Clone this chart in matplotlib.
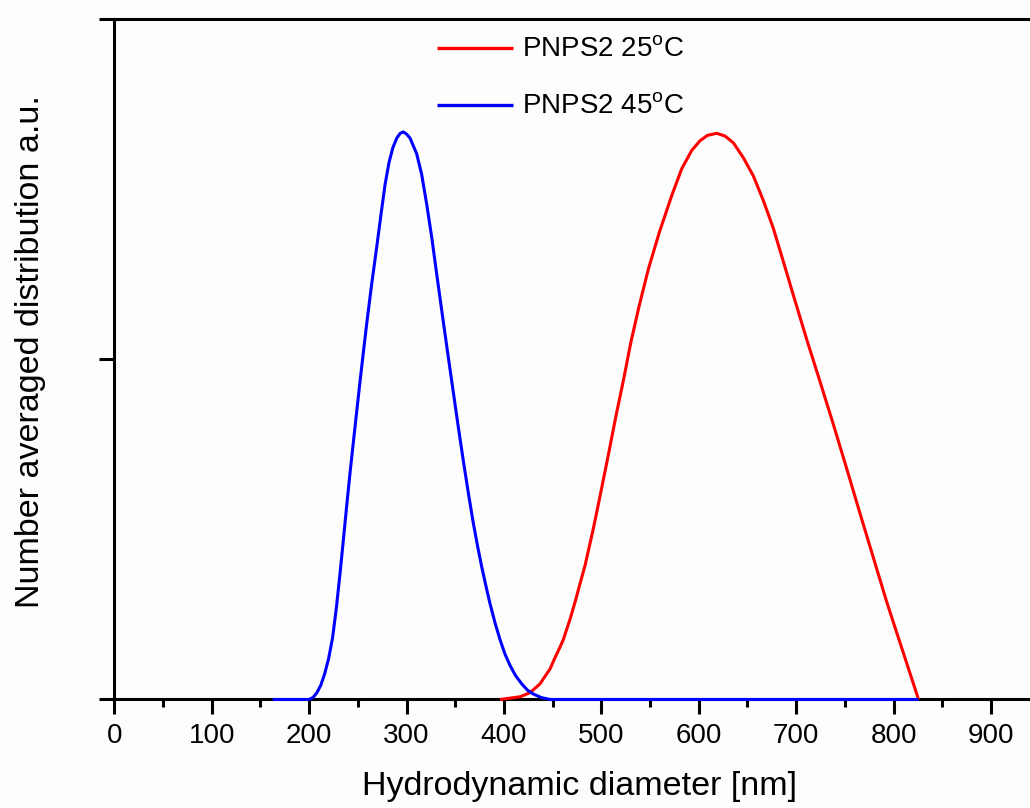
import matplotlib
matplotlib.use("Agg")
import matplotlib.pyplot as plt

plt.rcParams['font.family'] = ['Liberation Sans', 'DejaVu Sans']
plt.rcParams['mathtext.fontset'] = 'custom'
plt.rcParams['mathtext.rm'] = 'Liberation Sans'

# Number-averaged size distribution at 25 °C (nm, a.u.)
d_25 = [396, 416.6, 426.8, 437.1, 442.2, 447.4, 452, 457.6, 461, 467.9,
        473.0, 478.1, 483.3, 491.8, 499.7, 507.3, 514.8, 522.7, 530.2,
        538.8, 548.4, 559.7, 572.4, 582.6, 592.9, 601.3, 609, 618.5, 627,
        635.6, 645.9, 656.2, 666.4, 676.7, 687.0, 697.2, 710.9, 724.6,
        738.3, 752.0, 765.7, 779.4, 793.1, 806.8, 825.7]
n_25 = [0.0, 0.004, 0.010, 0.023, 0.034, 0.045, 0.060, 0.077, 0.088, 0.118,
        0.143, 0.170, 0.197, 0.251, 0.306, 0.360, 0.415, 0.469, 0.524,
        0.578, 0.633, 0.687, 0.741, 0.780, 0.807, 0.821, 0.829, 0.832, 0.828,
        0.818, 0.796, 0.769, 0.733, 0.692, 0.643, 0.594, 0.529, 0.467,
        0.404, 0.339, 0.273, 0.208, 0.143, 0.083, 0.0]

# Number-averaged size distribution at 45 °C (nm, a.u.)
d_45 = [162.6, 200, 204, 208, 212, 216, 220, 224, 228, 231.7, 235, 238.6,
        242, 245.4, 249, 252.3, 256, 259.1, 264, 269.4, 274, 278, 282, 286,
        290, 293.5, 296.7, 300, 303.6, 310.4, 315.5, 320.7, 326, 331, 337,
        342.9, 348, 353, 358.4, 363.4, 368.6, 373, 377.2, 381.5, 385.7,
        391, 396, 401, 406.3, 412, 418.3, 424, 430.2, 438, 447.3, 825.6]
n_45 = [0.0, 0.0, 0.003, 0.010, 0.021, 0.038, 0.060, 0.090, 0.135, 0.185,
        0.232, 0.285, 0.333, 0.378, 0.425, 0.468, 0.514, 0.552, 0.608,
        0.665, 0.715, 0.757, 0.789, 0.811, 0.825, 0.832, 0.834, 0.831,
        0.825, 0.802, 0.772, 0.728, 0.678, 0.625, 0.563, 0.503, 0.452,
        0.402, 0.350, 0.304, 0.259, 0.225, 0.195, 0.167, 0.141, 0.112,
        0.088, 0.067, 0.050, 0.035, 0.023, 0.014, 0.008, 0.003, 0.0, 0.0]

labels = [r'PNPS2 25$^{\mathregular{o}}$C', r'PNPS2 45$^{\mathregular{o}}$C']
x_major = list(range(0, 901, 100))
x_tick_labels = [str(v) for v in x_major]

fig = plt.figure(figsize=(10.30, 8.08), dpi=100)
fig.patch.set_facecolor('#fdfdfd')
ax = fig.add_axes([0.111, 0.1343, 0.9456, 0.8422])
ax.set_facecolor('#fdfdfd')

l25, = ax.plot(d_25, n_25, color='#ff0000', lw=2.2, zorder=3,
               solid_joinstyle='round', solid_capstyle='butt', clip_on=False)
l45, = ax.plot(d_45, n_45, color='#0000ff', lw=2.2, zorder=4,
               solid_joinstyle='round', solid_capstyle='butt', clip_on=False)

ax.set_xlim(0, 1000)
ax.set_ylim(0, 1)

ax.set_xticks(x_major)
ax.set_xticklabels(x_tick_labels)
ax.set_xticks([v + 50 for v in x_major], minor=True)
ax.set_yticks([0, 0.5, 1.0])
ax.set_yticklabels([])

for s in ax.spines.values():
    s.set_linewidth(2.2)

ax.tick_params(axis='x', which='major', direction='out', length=10.8,
               width=2.2, labelsize=20, pad=6)
ax.tick_params(axis='x', which='minor', direction='out', length=5.8,
               width=2.2)
ax.tick_params(axis='y', which='major', direction='out', length=10.8,
               width=2.2)

ax.set_xlabel('Hydrodynamic diameter [nm]', fontsize=24.5)
ax.set_ylabel('Number averaged distribution a.u.', fontsize=24.5)
ax.xaxis.set_label_coords(0.4776, -0.1286)
ax.xaxis.label.set_verticalalignment('center')
ax.yaxis.set_label_coords(-0.0856, 0.512)
ax.yaxis.label.set_verticalalignment('center')

leg = ax.legend([l25, l45], labels, loc='upper left',
                bbox_to_anchor=(0.331, 0.973), frameon=False, fontsize=20,
                handlelength=2.75, handletextpad=0.33, labelspacing=1.12,
                borderpad=0, borderaxespad=0)
for h in leg.get_lines():
    h.set_linewidth(2.4)

fig.savefig('out.png', dpi=100, facecolor=fig.get_facecolor())
